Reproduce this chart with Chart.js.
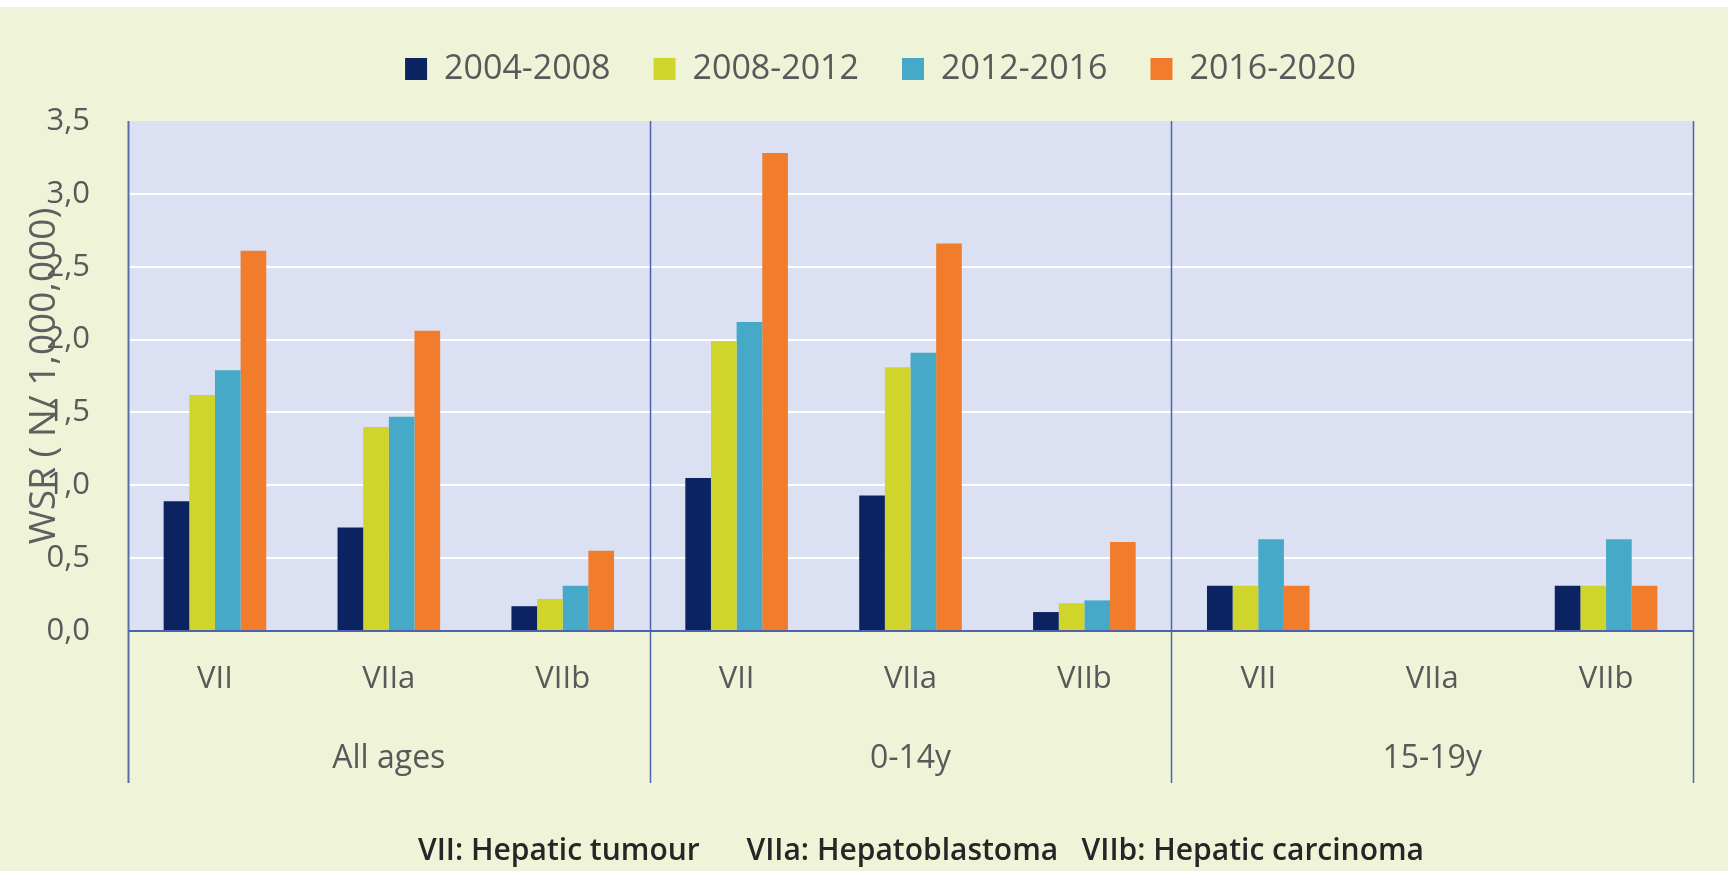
<!DOCTYPE html>
<html>
<head>
<meta charset="utf-8">
<script src="https://cdn.jsdelivr.net/npm/chart.js@4.4.0/dist/chart.umd.min.js"></script>
<style>
  html, body { margin: 0; padding: 0; background: #ffffff; }
  #wrap { width: 1735px; height: 871px; }
</style>
</head>
<body>
<div id="wrap"><canvas id="chart" width="1735" height="871"></canvas></div>
<script>
// ----------------- Data -----------------
const categories = ['VII', 'VIIa', 'VIIb', 'VII', 'VIIa', 'VIIb', 'VII', 'VIIa', 'VIIb'];
const ageGroups = ['All ages', '0-14y', '15-19y'];
const periods = ['2004-2008', '2008-2012', '2012-2016', '2016-2020'];

const wsr2004 = [0.89, 0.71, 0.17, 1.05, 0.93, 0.13, 0.31, null, 0.31];
const wsr2008 = [1.62, 1.40, 0.22, 1.99, 1.81, 0.19, 0.31, null, 0.31];
const wsr2012 = [1.79, 1.47, 0.31, 2.12, 1.91, 0.21, 0.63, null, 0.63];
const wsr2016 = [2.61, 2.06, 0.55, 3.28, 2.66, 0.61, 0.31, null, 0.31];

const yTickLabels = ['0,0', '0,5', '1,0', '1,5', '2,0', '2,5', '3,0', '3,5'];
const yTitle = 'WSR ( N/ 1,000,000)';
const footnote = 'VII: Hepatic tumour      VIIa: Hepatoblastoma   VIIb: Hepatic carcinoma';

const colors = ['#0c2361', '#cfd52a', '#45a9c7', '#f07c2c'];
const FONT = "'Open Sans', sans-serif";
const TEXT = '#595959';
const LINE = '#4d63ad';

Chart.defaults.font.family = FONT;

// ----------------- Decorations -----------------
const frame = {
    id: 'frame',
    beforeLayout(chart) {
        // leave a gap between legend and plot
        const legend = chart.legend;
        if (legend && !legend._patched) {
            const fit = legend.fit;
            legend.fit = function () {
                fit.call(this);
                this.height += 25;
            };
            legend._patched = true;
        }
    },
    afterLayout(chart) {
        // legend sits a bit right of centre in the original
        if (chart.legend) {
            chart.legend.left += 34;
            chart.legend.right += 34;
        }
    },
    beforeDraw(chart) {
        const { ctx, chartArea: a, width, height } = chart;
        ctx.save();
        ctx.fillStyle = '#ffffff';
        ctx.fillRect(0, 0, width, height);
        ctx.fillStyle = '#eff4d9';
        ctx.fillRect(0, 7, width - 7, height - 7);
        ctx.fillStyle = '#dbe1f2';
        ctx.fillRect(a.left, a.top, a.right - a.left, a.bottom - a.top);
        ctx.restore();
    },
    afterDraw(chart) {
        const { ctx, chartArea: a } = chart;
        const x = chart.scales.x;
        const y = chart.scales.y;
        const frameBottom = 783;
        ctx.save();

        // baseline
        ctx.strokeStyle = LINE;
        ctx.lineWidth = 2;
        ctx.beginPath();
        ctx.moveTo(a.left, y.getPixelForValue(0));
        ctx.lineTo(a.right, y.getPixelForValue(0));
        ctx.stroke();

        // verticals: left axis, group separators, right border
        const xs = [a.left, x.getPixelForValue(2.5), x.getPixelForValue(5.5), a.right];
        xs.forEach((px, i) => {
            ctx.lineWidth = i === 0 ? 2 : 1.5;
            ctx.strokeStyle = i === 0 ? '#5a6da3' : LINE;
            ctx.beginPath();
            ctx.moveTo(Math.round(px) + 0.5, a.top);
            ctx.lineTo(Math.round(px) + 0.5, frameBottom);
            ctx.stroke();
        });

        // age group labels
        ctx.fillStyle = TEXT;
        ctx.font = '32px ' + FONT;
        ctx.textAlign = 'center';
        ctx.textBaseline = 'middle';
        ageGroups.forEach((g, i) => {
            ctx.fillText(g, x.getPixelForValue(i * 3 + 1), a.bottom + 128);
        });

        // y axis title
        ctx.save();
        ctx.translate(44, (a.top + a.bottom) / 2);
        ctx.rotate(-Math.PI / 2);
        ctx.font = '37px ' + FONT;
        ctx.fillStyle = '#5f5f5f';
        ctx.fillText(yTitle, 0, 0);
        ctx.restore();

        // footnote
        ctx.fillStyle = '#262626';
        ctx.font = '600 30px ' + FONT;
        ctx.textAlign = 'left';
        ctx.fillText(footnote, 418, 851);

        ctx.restore();
    }
};

// ----------------- Bar Chart -----------------
const ctx = document.getElementById('chart').getContext('2d');
new Chart(ctx, {
    type: 'bar',
    data: {
        labels: categories,
        datasets: [wsr2004, wsr2008, wsr2012, wsr2016].map((vals, i) => ({
            label: periods[i],
            data: vals,
            backgroundColor: colors[i],
            borderWidth: 0,
            barPercentage: 1.0,
            categoryPercentage: 0.59
        }))
    },
    options: {
        responsive: false,
        animation: false,
        devicePixelRatio: 1,
        layout: { padding: { top: 9, right: 42, left: 0, bottom: 0 } },
        plugins: {
            tooltip: { enabled: false },
            legend: {
                position: 'top',
                labels: {
                    boxWidth: 22,
                    boxHeight: 22,
                    padding: 43,
                    color: TEXT,
                    font: { family: FONT, size: 34 }
                }
            }
        },
        scales: {
            x: {
                afterFit(s) { s.height = 240; },
                grid: { display: false, drawTicks: false },
                border: { display: false },
                ticks: {
                    padding: 30,
                    color: TEXT,
                    font: { family: FONT, size: 31 },
                    maxRotation: 0,
                    autoSkip: false
                }
            },
            y: {
                min: 0,
                max: 3.5,
                afterFit(s) { s.width = 128; },
                border: { display: false },
                grid: {
                    color: c => (c.tick.value > 0 && c.tick.value < 3.5) ? '#ffffff' : 'rgba(0,0,0,0)',
                    lineWidth: 2,
                    drawTicks: false
                },
                ticks: {
                    stepSize: 0.5,
                    padding: 38,
                    color: TEXT,
                    font: { family: FONT, size: 31 },
                    callback: (v, i) => yTickLabels[i]
                }
            }
        }
    },
    plugins: [frame]
});
</script>
</body>
</html>
